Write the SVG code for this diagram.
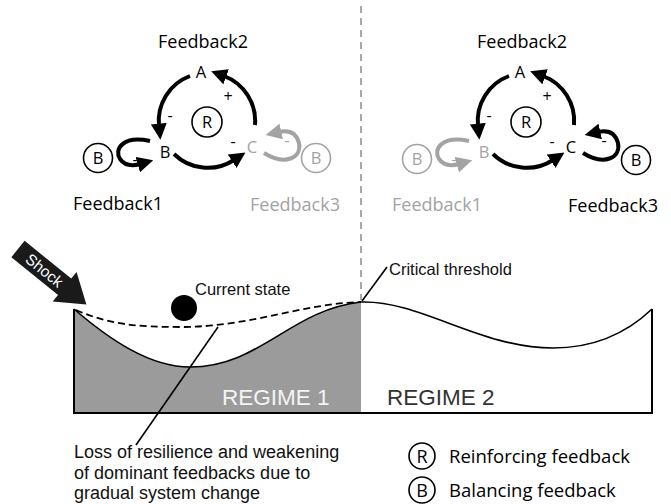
<svg xmlns="http://www.w3.org/2000/svg" width="671" height="504" viewBox="0 0 671 504">
<style>
.os{font-family:"Open Sans","DejaVu Sans",sans-serif}
.hv{font-family:"Liberation Sans",Arial,sans-serif}
.blk{fill:#000}
.gry{fill:#a3a3a3}
.arcB{fill:none;stroke:#000;stroke-width:4}
.arcG{fill:none;stroke:#a3a3a3;stroke-width:4}
.circB{fill:#fff;stroke:#000;stroke-width:1.6}
.circG{fill:#fff;stroke:#a3a3a3;stroke-width:1.6}
.node{font-size:16.5px;text-anchor:middle}
.fb{font-size:18px;text-anchor:middle}
.sign{font-size:16px;text-anchor:middle}
</style>
<defs>
<marker id="hB" markerUnits="userSpaceOnUse" markerWidth="16" markerHeight="16" viewBox="0 0 14 14" refX="2" refY="7" orient="auto"><path d="M0,0 L14,7 L0,14 z" fill="#000"/></marker>
<marker id="hG" markerUnits="userSpaceOnUse" markerWidth="16" markerHeight="16" viewBox="0 0 14 14" refX="2" refY="7" orient="auto"><path d="M0,0 L14,7 L0,14 z" fill="#a3a3a3"/></marker>
</defs>

<!-- divider -->
<line x1="361" y1="6" x2="361" y2="300" stroke="#a8a8a8" stroke-width="2" stroke-dasharray="7,5"/>

<!-- LEFT PANEL (Regime 1) -->
<g id="connectors-left">
  <path class="arcB" d="M190,76 A48,48 0 0 0 159,126" marker-end="url(#hB)"/>
  <path class="arcB" d="M255,125 A48,48 0 0 0 224,76" marker-end="url(#hB)"/>
  <path class="arcB" d="M174,154 A48,48 0 0 0 234,160" marker-end="url(#hB)"/>
  <path class="arcB" d="M150,141 C122,135 114,150 120,159 C125,166 133,166 140,164" marker-end="url(#hB)"/>
  <path class="arcG" d="M264,153 C285,166 302,158 299,143 C296,132 288,130 279,132" marker-end="url(#hG)"/>
  <text class="os sign blk" x="170" y="121">-</text>
  <text class="os sign blk" x="228" y="102">+</text>
  <text class="os sign blk" x="233" y="147">-</text>
  <text class="os sign blk" x="135" y="165">-</text>
  <text class="os sign gry" x="287" y="146">-</text>
</g>
<g id="node-A-left"><text class="os node blk" x="201" y="78">A</text></g>
<g id="node-B-left"><text class="os node blk" x="165" y="158">B</text></g>
<g id="node-C-left"><text class="os node gry" x="252" y="153">C</text></g>
<g id="loop-R-left"><circle class="circB" cx="207" cy="122" r="15"/><text class="os node blk" x="207" y="128">R</text></g>
<g id="loop-B1-left"><circle class="circB" cx="98" cy="158" r="14.5"/><text class="os node blk" x="98" y="164">B</text></g>
<g id="loop-B3-left"><circle class="circG" cx="316" cy="158" r="14.5"/><text class="os node gry" x="316" y="164">B</text></g>
<g id="label-fb2-left"><text class="os fb blk" x="203" y="48">Feedback2</text></g>
<g id="label-fb1-left"><text class="os fb blk" x="118" y="210">Feedback1</text></g>
<g id="label-fb3-left"><text class="os fb gry" x="295" y="211">Feedback3</text></g>

<!-- RIGHT PANEL (Regime 2) -->
<g id="connectors-right" transform="translate(319,0)">
  <path class="arcB" d="M190,76 A48,48 0 0 0 159,126" marker-end="url(#hB)"/>
  <path class="arcB" d="M255,125 A48,48 0 0 0 224,76" marker-end="url(#hB)"/>
  <path class="arcB" d="M174,154 A48,48 0 0 0 234,160" marker-end="url(#hB)"/>
  <path class="arcG" d="M150,141 C122,135 114,150 120,159 C125,166 133,166 140,164" marker-end="url(#hG)"/>
  <path class="arcB" d="M264,153 C285,166 302,158 299,143 C296,132 288,130 279,132" marker-end="url(#hB)"/>
  <text class="os sign blk" x="170" y="121">-</text>
  <text class="os sign blk" x="228" y="102">+</text>
  <text class="os sign blk" x="233" y="147">-</text>
  <text class="os sign gry" x="135" y="165">-</text>
  <text class="os sign blk" x="285" y="146">-</text>
</g>
<g id="node-A-right"><text class="os node blk" x="520" y="78">A</text></g>
<g id="node-B-right"><text class="os node gry" x="484" y="158">B</text></g>
<g id="node-C-right"><text class="os node blk" x="571" y="153">C</text></g>
<g id="loop-R-right"><circle class="circB" cx="526" cy="122" r="15"/><text class="os node blk" x="526" y="128">R</text></g>
<g id="loop-B1-right"><circle class="circG" cx="417" cy="159" r="14.5"/><text class="os node gry" x="417" y="165">B</text></g>
<g id="loop-B3-right"><circle class="circB" cx="636" cy="160" r="14.5"/><text class="os node blk" x="636" y="166">B</text></g>
<g id="label-fb2-right"><text class="os fb blk" x="522" y="48">Feedback2</text></g>
<g id="label-fb1-right"><text class="os fb gry" x="437" y="211">Feedback1</text></g>
<g id="label-fb3-right"><text class="os fb blk" x="613" y="212">Feedback3</text></g>

<!-- LANDSCAPE -->
<g id="landscape">
  <path d="M74,309 C110,340 150,367 190,367 C260,367 290,310 361,302 L361,413 L74,413 Z" fill="#9b9b9b"/>
  <path d="M74,309 C110,340 150,367 190,367 C260,367 290,310 361,302 C420,300 480,348 553,348 C600,348 630,330 652,309" fill="none" stroke="#000" stroke-width="1.6"/>
  <path d="M74,309 L74,413 L652,413 L652,309" fill="none" stroke="#000" stroke-width="2"/>
  <path d="M76,310 C110,325 140,327 180,327 C250,327 300,304 361,302" fill="none" stroke="#000" stroke-width="1.8" stroke-dasharray="7,4"/>
  <text class="hv" x="222" y="405" font-size="22.5" fill="#f4f4f4">REGIME 1</text>
  <text class="hv" x="387" y="405" font-size="22.5" fill="#333">REGIME 2</text>
</g>
<g id="ball"><circle cx="184" cy="308" r="13" fill="#000"/></g>
<g id="label-current"><text class="hv" x="195" y="295" font-size="16.5" fill="#111">Current state</text></g>
<g id="label-threshold">
  <line x1="362" y1="301" x2="387" y2="267" stroke="#000" stroke-width="1.6"/>
  <text class="hv" x="389" y="275" font-size="16.5" fill="#111">Critical threshold</text>
</g>
<g id="shock" transform="translate(18,249) rotate(39)">
  <path d="M0,-10.5 L60,-10.5 L60,-19 L88,0 L60,19 L60,10.5 L0,10.5 Z" fill="#1a1a1a"/>
  <text class="hv" x="34" y="5.5" font-size="15.5" fill="#fff" text-anchor="middle">Shock</text>
</g>
<g id="label-loss">
  <line x1="218" y1="327" x2="136" y2="445" stroke="#000" stroke-width="1.6"/>
  <text class="hv" font-size="18" fill="#111"><tspan x="74" y="458">Loss of resilience and weakening</tspan><tspan x="74" y="479">of dominant feedbacks due to</tspan><tspan x="74" y="499">gradual system change</tspan></text>
</g>
<g id="legend">
  <ellipse cx="422" cy="456" rx="13" ry="13" fill="#fff" stroke="#000" stroke-width="1.6"/>
  <text class="os" x="422" y="463" font-size="18" text-anchor="middle">R</text>
  <text class="os" x="449" y="463" font-size="18.5">Reinforcing feedback</text>
  <ellipse cx="422" cy="490" rx="13" ry="13" fill="#fff" stroke="#000" stroke-width="1.6"/>
  <text class="os" x="422" y="497" font-size="18" text-anchor="middle">B</text>
  <text class="os" x="449" y="497" font-size="18.5">Balancing feedback</text>
</g>
</svg>
